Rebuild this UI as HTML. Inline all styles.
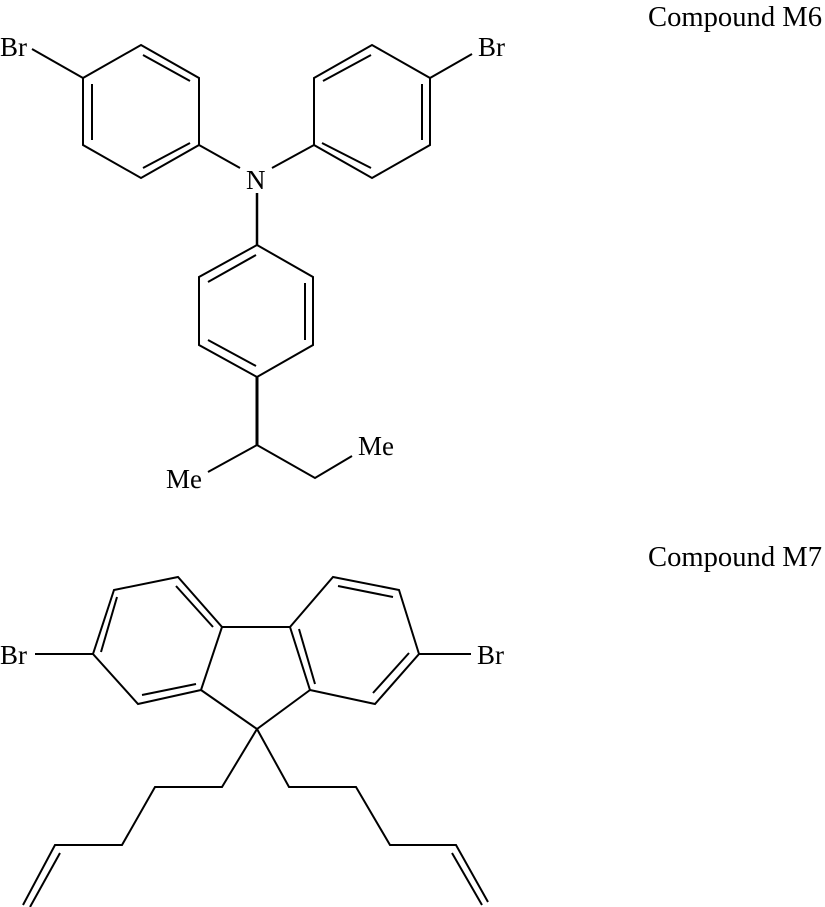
<!DOCTYPE html>
<html><head><meta charset="utf-8"><style>html,body{margin:0;padding:0;background:#fff}svg{display:block}text{font-family:"Liberation Serif",serif;fill:#000}</style></head><body>
<svg width="825" height="907" viewBox="0 0 825 907" xmlns="http://www.w3.org/2000/svg">
<g stroke="#000" stroke-width="2" fill="none" stroke-linejoin="miter">
<polygon points="141,45 199,78 199,145 141,178 83,145 83,78"/>
<line x1="83" y1="78" x2="32" y2="49"/>
<line x1="143" y1="55" x2="190" y2="81"/>
<line x1="92" y1="84" x2="92" y2="140"/>
<line x1="143" y1="168" x2="190" y2="143"/>
<line x1="199" y1="145" x2="240" y2="168"/>
<line x1="272" y1="168" x2="314" y2="145"/>
<polygon points="314,78 372,45 430,78 430,145 372,178 314,145"/>
<line x1="430" y1="78" x2="472" y2="54"/>
<line x1="323" y1="81" x2="371" y2="55"/>
<line x1="422" y1="84" x2="422" y2="140"/>
<line x1="322" y1="143" x2="371" y2="168"/>
<line x1="257" y1="193" x2="257" y2="245" stroke-width="2.5"/>
<polygon points="257,245 313,277 313,345 257,377 199,345 199,277"/>
<line x1="208" y1="282" x2="256" y2="255"/>
<line x1="305" y1="283" x2="305" y2="340"/>
<line x1="208" y1="340" x2="256" y2="366"/>
<line x1="257" y1="377" x2="257" y2="445" stroke-width="3"/>
<polyline points="208,472 257,445 315,478 352,456"/>
<polygon points="114,590 178,577 222,627 201,690 138,704 93,654"/>
<line x1="93" y1="654" x2="35" y2="654"/>
<line x1="117" y1="597" x2="101" y2="652"/>
<line x1="176" y1="586" x2="213" y2="627"/>
<line x1="142" y1="695" x2="196" y2="684"/>
<line x1="222" y1="627" x2="290" y2="627"/>
<polyline points="201,690 257,729 310,690"/>
<polygon points="290,627 333,577 399,590 419,654 375,704 310,690"/>
<line x1="419" y1="654" x2="471" y2="654"/>
<line x1="338" y1="586" x2="393" y2="597"/>
<line x1="409" y1="653" x2="373" y2="693"/>
<line x1="299" y1="629" x2="315" y2="684"/>
<polyline points="257,729 222,787 155,787 122,845 55,845 23,905"/>
<line x1="60" y1="853" x2="30" y2="907"/>
<polyline points="257,729 289,787 356,787 390,845 456,845 488,902"/>
<line x1="452" y1="853" x2="482" y2="905"/>
</g>
<g font-size="27">
<text x="0" y="56">Br</text>
<text x="478" y="56">Br</text>
<text x="246" y="189">N</text>
<text x="166" y="488">Me</text>
<text x="358" y="455">Me</text>
<text x="0" y="664">Br</text>
<text x="477" y="664">Br</text>
</g>
<g font-size="28">
<text x="648" y="26" textLength="174" lengthAdjust="spacingAndGlyphs">Compound M6</text>
<text x="648" y="566" textLength="174" lengthAdjust="spacingAndGlyphs">Compound M7</text>
</g>
</svg>
</body></html>
